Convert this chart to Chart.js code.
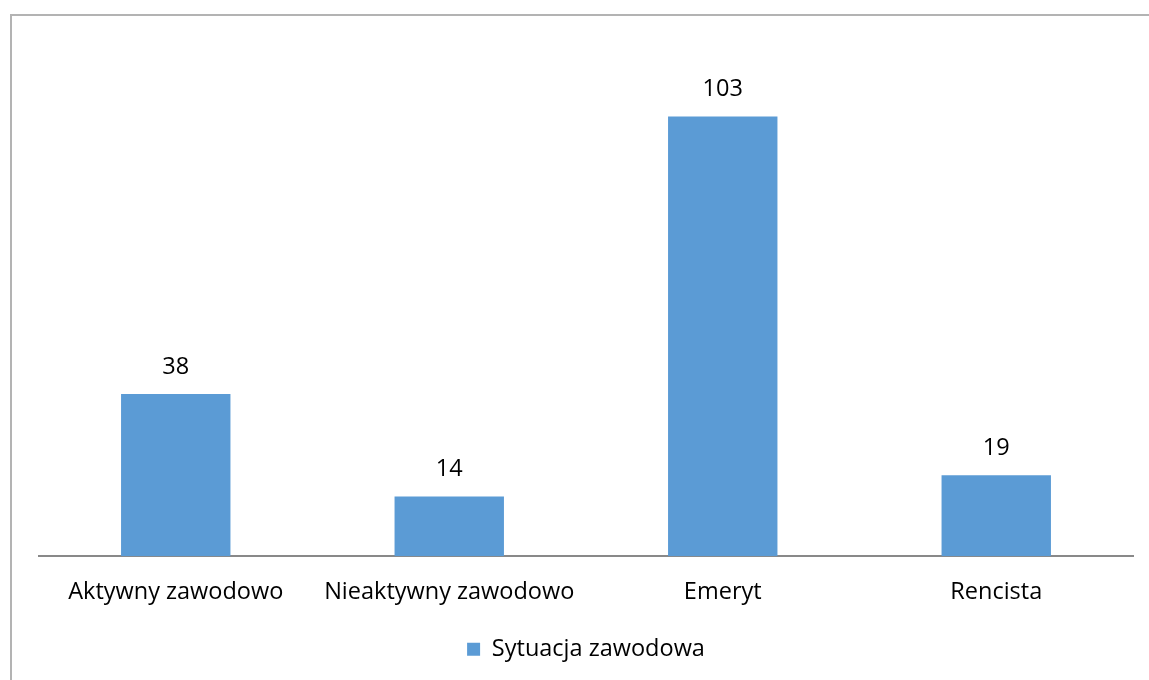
<!DOCTYPE html>
<html>
<head>
<meta charset="utf-8">
<script src="https://cdn.jsdelivr.net/npm/chart.js@4/dist/chart.umd.min.js"></script>
<style>
html,body{margin:0;padding:0;background:#fff;overflow:hidden;}
#wrap{position:relative;width:1149px;height:680px;}
#frame{position:absolute;left:10px;top:14px;width:1200px;height:700px;border-left:2px solid #b3b3b3;border-top:2px solid #b3b3b3;box-sizing:border-box;}
canvas{position:absolute;left:0;top:0;}
</style>
</head>
<body>
<div id="wrap">
<div id="frame"></div>
<canvas id="c" width="1149" height="680"></canvas>
</div>
<script>
const categories = ["Aktywny zawodowo", "Nieaktywny zawodowo", "Emeryt", "Rencista"];
const seriesName = "Sytuacja zawodowa";
const values = [38, 14, 103, 19];
const yMax = 120;

const FONT = "'Open Sans', 'Liberation Sans', sans-serif";
const FS = 23.5;

const dataLabels = {
  id: 'dataLabels',
  afterDatasetsDraw(chart) {
    const ctx = chart.ctx;
    const meta = chart.getDatasetMeta(0);
    ctx.save();
    ctx.font = FS + "px " + FONT;
    ctx.fillStyle = "#000";
    ctx.textAlign = "center";
    ctx.textBaseline = "middle";
    meta.data.forEach((bar, i) => {
      ctx.fillText(String(chart.data.datasets[0].data[i]), bar.x, bar.y - 27);
    });
    ctx.restore();
  }
};

new Chart(document.getElementById('c'), {
  type: 'bar',
  data: {
    labels: categories,
    datasets: [{
      label: seriesName,
      data: values,
      backgroundColor: '#5b9bd5',
      borderWidth: 0,
      categoryPercentage: 1.0,
      barPercentage: 0.4
    }]
  },
  options: {
    responsive: false,
    animation: false,
    layout: { padding: { left: 39, right: 16, top: 44, bottom: 9 } },
    scales: {
      x: {
        grid: { display: false, drawTicks: false },
        border: { display: true, color: '#898989', width: 2 },
        ticks: { color: '#000', font: { family: FONT, size: FS }, padding: 22 }
      },
      y: {
        display: false,
        min: 0, max: yMax
      }
    },
    plugins: {
      legend: {
        position: 'bottom',
        labels: {
          color: '#000',
          font: { family: FONT, size: FS },
          boxWidth: 13, boxHeight: 13,
          padding: 9
        }
      },
      tooltip: { enabled: false }
    }
  },
  plugins: [dataLabels]
});
</script>
</body>
</html>
